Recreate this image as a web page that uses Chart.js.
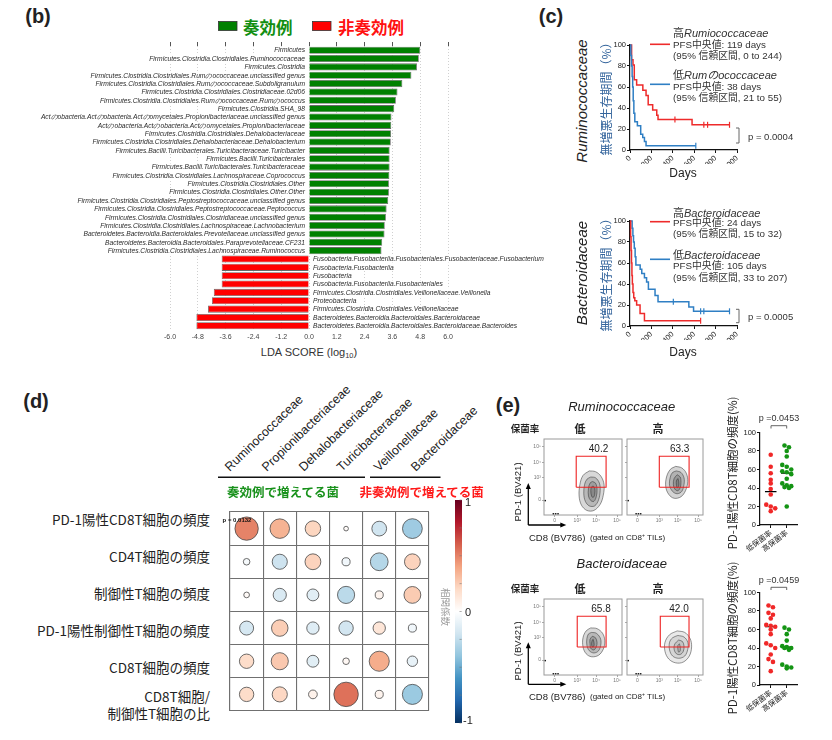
<!DOCTYPE html>
<html>
<head>
<meta charset="utf-8">
<script src="https://cdn.jsdelivr.net/npm/chart.js@4"></script>
<style>
  body { margin: 0; background: #fff; width: 832px; height: 740px; position: relative; overflow: hidden;
         font-family: "Liberation Sans", Arial, "Noto Sans CJK JP", sans-serif; color: #222; }
  .t { position: absolute; white-space: nowrap; line-height: 1; }
  canvas { position: absolute; }
  svg { position: absolute; left: 0; top: 0; pointer-events: none; }
</style>
</head>
<body>
<script>
// ---------- (b) LEfSe ----------
const respNames = [
  'Firmicutes',
  'Firmicutes.Clostridia.Clostridiales.Ruminococcaceae',
  'Firmicutes.Clostridia',
  'Firmicutes.Clostridia.Clostridiales.Rumのococcaceae.unclassified genus',
  'Firmicutes.Clostridia.Clostridiales.Rumのococcaceae.Subdoligranulum',
  'Firmicutes.Clostridia.Clostridiales.Clostridiaceae.02d06',
  'Firmicutes.Clostridia.Clostridiales.Rumのococcaceae.Rumのococcus',
  'Firmicutes.Clostridia.SHA_98',
  'Actのobacteria.Actのobacteria.Actのomycetales.Propionibacteriaceae.unclassified genus',
  'Actのobacteria.Actのobacteria.Actのomycetales.Propionibacteriaceae',
  'Firmicutes.Clostridia.Clostridiales.Dehalobacteriaceae',
  'Firmicutes.Clostridia.Clostridiales.Dehalobacteriaceae.Dehalobacterium',
  'Firmicutes.Bacilli.Turicibacterales.Turicibacteraceae.Turicibacter',
  'Firmicutes.Bacilli.Turicibacterales',
  'Firmicutes.Bacilli.Turicibacterales.Turicibacteraceae',
  'Firmicutes.Clostridia.Clostridiales.Lachnospiraceae.Coprococcus',
  'Firmicutes.Clostridia.Clostridiales.Other',
  'Firmicutes.Clostridia.Clostridiales.Other.Other',
  'Firmicutes.Clostridia.Clostridiales.Peptostreptococcaceae.unclassified genus',
  'Firmicutes.Clostridia.Clostridiales.Peptostreptococcaceae.Peptococcus',
  'Firmicutes.Clostridia.Clostridiales.Clostridiaceae.unclassified genus',
  'Firmicutes.Clostridia.Clostridiales.Lachnospiraceae.Lachnobacterium',
  'Bacteroidetes.Bacteroidia.Bacteroidales.Prevotellaceae.unclassified genus',
  'Bacteroidetes.Bacteroidia.Bacteroidales.Paraprevotellaceae.CF231',
  'Firmicutes.Clostridia.Clostridiales.Lachnospiraceae.Ruminococcus'
];
const respScores = [4.80, 4.74, 4.66, 4.42, 4.03, 3.82, 3.75, 3.68, 3.56, 3.55, 3.54, 3.53,
                    3.48, 3.48, 3.48, 3.47, 3.45, 3.45, 3.42, 3.35, 3.32, 3.27, 3.26, 3.16, 3.13];
const nonNames = [
  'Fusobacteria.Fusobacteriia.Fusobacteriales.Fusobacteriaceae.Fusobacterium',
  'Fusobacteria.Fusobacteriia',
  'Fusobacteria',
  'Fusobacteria.Fusobacteriia.Fusobacteriales',
  'Firmicutes.Clostridia.Clostridiales.Veillonellaceae.Veillonella',
  'Proteobacteria',
  'Firmicutes.Clostridia.Clostridiales.Veillonellaceae',
  'Bacteroidetes.Bacteroidia.Bacteroidales.Bacteroidaceae',
  'Bacteroidetes.Bacteroidia.Bacteroidales.Bacteroidaceae.Bacteroides'
];
const nonScores = [-3.77, -3.77, -3.77, -3.77, -4.11, -4.19, -4.36, -4.86, -4.86];

// ---------- (c) Kaplan-Meier ----------
const ruHiDays = [0, 15, 28, 40, 62, 120, 150, 170, 212, 250, 262, 580, 930];
const ruHiPfs  = [100, 86, 81, 67, 62, 57, 52, 43, 38, 33, 29, 24, 24];
const ruHiCens = [420, 690, 725, 930];
const ruLoDays = [0, 8, 14, 20, 25, 30, 36, 45, 69, 100, 119, 135, 150, 615];
const ruLoPfs  = [100, 90, 80, 70, 60, 47, 35, 27, 23, 15, 12, 8, 4, 4];
const ruLoCens = [615];
const bcHiDays = [0, 6, 10, 14, 18, 22, 28, 35, 45, 62, 94, 135, 660];
const bcHiPfs  = [100, 85, 72, 60, 48, 40, 32, 27, 24, 20, 12, 5, 5];
const bcHiCens = [660];
const bcLoDays = [0, 20, 27, 33, 40, 48, 55, 95, 110, 135, 155, 172, 234, 262, 550, 594, 930];
const bcLoPfs  = [100, 93, 86, 80, 74, 66, 58, 54, 50, 46, 42, 35, 29, 23, 18, 14, 14];
const bcLoCens = [405, 660, 690, 930];

// ---------- (d) correlation ----------
const taxa = ['Ruminococcaceae', 'Propionibacteriaceae', 'Dehalobacteriaceae',
              'Turicibacteraceae', 'Veillonellaceae', 'Bacteroidaceae'];
const cellTypes = ['PD-1陽性CD8T細胞の頻度', 'CD4T細胞の頻度', '制御性T細胞の頻度',
                   'PD-1陽性制御性T細胞の頻度', 'CD8T細胞の頻度', 'CD8T細胞/<br>制御性T細胞の比'];
const corrPd1Cd8  = [0.50, 0.35, 0.22, 0.02, -0.20, -0.36];
const corrCd4     = [-0.04, -0.21, 0.23, -0.06, -0.29, 0.23];
const corrTreg    = [0.03, -0.16, -0.13, -0.27, 0.06, 0.26];
const corrPd1Treg = [-0.18, 0.25, -0.14, -0.19, 0.14, -0.06];
const corrCd8     = [0.19, 0.27, -0.13, 0.04, 0.37, -0.10];
const corrRatio   = [0.19, 0.21, 0.07, 0.55, 0.06, -0.37];
const corrRows = [corrPd1Cd8, corrCd4, corrTreg, corrPd1Treg, corrCd8, corrRatio];

// ---------- (e) flow + dot plots ----------
const flowXTicks = [13.6, 42.6, 66.8, 93.6];
const flowYTicks = [19.7, 49.7, 68.7, 90.6];
const flowTickLabels = ['0', '10³', '10⁴', '10⁵'];
const ruLowRings = [
  [[58,58],[66,57],[73,51],[77,40],[76,26],[72,14],[64,6],[55,6],[48,13],[45,25],[46,40],[50,52],[58,58]],
  [[60,50],[66,49],[71,42],[72,32],[70,20],[65,12],[58,12],[53,18],[51,28],[52,40],[55,47],[60,50]],
  [[62,44],[66,42],[68,34],[67,24],[64,18],[60,19],[57,25],[57,35],[59,42],[62,44]],
  [[63,38],[65,36],[65,27],[63,23],[61,25],[60,32],[61,37],[63,38]]
];
const ruHighRings = [
  [[64,64],[72,62],[78,55],[80,44],[77,32],[71,24],[62,22],[55,27],[51,37],[52,50],[57,60],[64,64]],
  [[65,58],[71,56],[75,49],[75,40],[72,31],[66,28],[60,31],[56,39],[57,50],[60,56],[65,58]],
  [[66,53],[70,50],[71,43],[70,36],[67,32],[63,34],[61,40],[62,48],[66,53]],
  [[67,48],[68,44],[68,38],[66,36],[65,40],[65,45],[67,48]]
];
const bcLowRings = [
  [[60,62],[68,61],[75,55],[78,45],[76,34],[70,26],[61,24],[54,28],[50,37],[50,49],[54,58],[60,62]],
  [[61,56],[67,55],[72,49],[73,41],[70,32],[64,29],[58,32],[55,39],[55,48],[57,54],[61,56]],
  [[62,51],[66,49],[68,43],[67,37],[64,33],[60,35],[59,41],[59,47],[62,51]],
  [[63,47],[64,43],[64,38],[62,37],[61,41],[62,46],[63,47]]
];
const bcHighRings = [
  [[66,58],[76,56],[83,48],[85,37],[82,25],[74,17],[64,16],[55,21],[50,31],[50,43],[56,53],[66,58]],
  [[67,52],[75,50],[80,43],[80,34],[76,25],[68,22],[60,25],[56,33],[56,43],[60,49],[67,52]],
  [[68,46],[73,44],[75,38],[74,31],[70,27],[65,28],[62,34],[63,41],[68,46]],
  [[69,41],[70,37],[70,32],[68,30],[67,34],[67,39],[69,41]]
];
const ruLowGate = [41.3, 79.6, 36.5, 77.3];
const ruHighGate = [42.5, 81.7, 36.5, 77.3];
const bcLowGate = [42.6, 79.6, 36.9, 77.3];
const bcHighGate = [43.8, 81.6, 36.9, 77.3];
const flowPile = [[12, 1.5], [15, 1.5], [18, 1.5], [1.5, 19]];
const gatePct = ['40.2', '63.3', '65.8', '42.0'];

const dotGroups = ['低保菌率', '高保菌率'];
const ruLowPd1 = [76, 63, 56, 49, 45, 39, 33, 22, 20, 18, 15];
const ruHighPd1 = [86, 84, 80, 74, 65, 63, 60, 58, 57, 55, 50, 45, 43, 42, 41, 40, 20];
const ruMedians = [36, 56];
const bcLowPd1 = [86, 84, 78, 76, 72, 65, 64, 63, 60, 55, 45, 43, 40, 33, 28, 25, 15];
const bcHighPd1 = [62, 60, 55, 48, 42, 41, 40, 40, 38, 22, 20, 19, 18];
const bcMedians = [63, 41];

// ---------- helpers ----------
Chart.defaults.font.family = '"Liberation Sans", Arial, sans-serif';
Chart.defaults.animation = false;
Chart.defaults.plugins.legend.display = false;
Chart.defaults.plugins.tooltip.enabled = false;
Chart.defaults.color = '#222';
const JP = '"Noto Sans CJK JP", sans-serif';

function T(html, x, y, style, anchor = 'c', rot = 0) {
  const d = document.createElement('div');
  d.className = 't';
  d.setAttribute('style', style);
  d.innerHTML = html;
  d.style.left = x + 'px';
  d.style.top = y + 'px';
  const tx = anchor === 'l' ? '0' : anchor === 'r' ? '-100%' : '-50%';
  d.style.transform = `translate(${tx},-50%)` + (rot ? ` rotate(${rot}deg)` : '');
  if (anchor === 'l' && rot) d.style.transformOrigin = '0 50%';
  document.body.appendChild(d);
}

// canvas so that the chart area lands on a = {l, r, t, b}
function canvasFor(a, ml, mt, mr, mb) {
  const c = document.createElement('canvas');
  const w = Math.round(a.r - a.l + ml + mr), h = Math.round(a.b - a.t + mt + mb);
  c.width = w; c.height = h;
  c.style.left = (a.l - ml) + 'px';
  c.style.top = (a.t - mt) + 'px';
  c.style.width = w + 'px'; c.style.height = h + 'px';
  document.body.appendChild(c);
  return c;
}

const svgNS = 'http://www.w3.org/2000/svg';
const svg = document.createElementNS(svgNS, 'svg');
svg.setAttribute('width', 832); svg.setAttribute('height', 740);
function L(x1, y1, x2, y2, color = '#000', w = 1) {
  const l = document.createElementNS(svgNS, 'line');
  l.setAttribute('x1', x1); l.setAttribute('y1', y1); l.setAttribute('x2', x2); l.setAttribute('y2', y2);
  l.setAttribute('stroke', color); l.setAttribute('stroke-width', w);
  svg.appendChild(l);
}
function P(points, color) {
  const p = document.createElementNS(svgNS, 'polygon');
  p.setAttribute('points', points); p.setAttribute('fill', color);
  svg.appendChild(p);
}
function R(x, y, w, h, fill, stroke) {
  const r = document.createElementNS(svgNS, 'rect');
  r.setAttribute('x', x); r.setAttribute('y', y); r.setAttribute('width', w); r.setAttribute('height', h);
  r.setAttribute('fill', fill); r.setAttribute('stroke', stroke); r.setAttribute('stroke-width', 0.8);
  svg.appendChild(r);
}

// ---------- (b) ----------
T('(b)', 38, 16, 'font: bold 20px "Liberation Sans"');
R(218.5, 21.5, 18.5, 9, '#008000', '#333');
T('奏効例', 243, 26.5, `font: bold 16.5px ${JP}; color: #128f12`, 'l');
R(312.5, 21.5, 18.5, 9, '#ff0000', '#333');
T('非奏効例', 338, 26.5, `font: bold 16.5px ${JP}; color: #ff1010`, 'l');
T('LDA SCORE (log<sub style="font-size:7.5px;vertical-align:-2px">10</sub>)', 309, 353,
  'font: 11px "Liberation Sans"; color: #333');

const ldaNames = respNames.concat(nonNames);
const ldaScores = respScores.concat(nonScores);
const ldaLabels = {
  id: 'ldaLabels',
  afterDatasetsDraw(ch) {
    const c = ch.ctx, xs = ch.scales.x, ys = ch.scales.y, x0 = xs.getPixelForValue(0);
    c.save();
    c.font = 'italic 6.7px "Liberation Sans"';
    c.textBaseline = 'middle';
    ch.data.labels.forEach((lab, i) => {
      const y = ys.getPixelForValue(i);
      const w = c.measureText(lab).width;
      const x = ch.data.datasets[0].data[i] > 0 ? x0 - 4 - w : x0 + 4;
      c.fillStyle = '#fff';
      c.fillRect(x - 1, y - 3.6, w + 2, 7.2);
      c.fillStyle = '#2a2a2a';
      c.fillText(lab, x, y + 0.4);
    });
    c.restore();
  }
};
new Chart(canvasFor({ l: 170, r: 448, t: 46, b: 330 }, 140, 6, 112, 16), {
  type: 'bar',
  data: {
    labels: ldaNames,
    datasets: [{
      data: ldaScores,
      backgroundColor: ldaScores.map(v => v > 0 ? '#008000' : '#ff0000'),
      borderColor: '#6a6a6a', borderWidth: 0.8,
      barPercentage: 0.85, categoryPercentage: 1
    }]
  },
  options: {
    indexAxis: 'y', responsive: false,
    layout: { padding: { left: 0, top: 0, right: 112, bottom: 0 } },
    scales: {
      x: {
        min: -6, max: 6,
        ticks: { stepSize: 1.2, callback: v => v.toFixed(1), font: { size: 7 }, color: '#444', padding: 3 },
        grid: { color: '#c4c4c4', lineWidth: 0.8, drawTicks: false },
        border: { display: false, dash: [1, 2] },
        afterFit: s => { s.height = 16; }
      },
      x2: {
        type: 'linear', position: 'top', min: -6, max: 6,
        ticks: { stepSize: 1.2, display: false },
        grid: { drawOnChartArea: false, tickLength: 4, color: '#555' },
        border: { display: false },
        afterFit: s => { s.height = 6; }
      },
      y: {
        ticks: { display: false }, grid: { display: false }, border: { display: false },
        afterFit: s => { s.width = 140; }
      }
    }
  },
  plugins: [ldaLabels]
});

// ---------- (c) ----------
T('(c)', 551, 16, 'font: bold 20px "Liberation Sans"');
const KM_RED = '#ee2b2b', KM_BLUE = '#2f7fc4';

function survAt(days, pfs, t) {
  let s = pfs[0];
  days.forEach((d, i) => { if (d <= t) s = pfs[i]; });
  return s;
}
function kmChart(area, curves) {
  const datasets = [];
  curves.forEach(cv => {
    datasets.push({
      data: cv.days.map((d, i) => ({ x: d, y: cv.pfs[i] })),
      borderColor: cv.color, borderWidth: 1.5, stepped: true, pointRadius: 0, clip: false
    });
    datasets.push({
      data: cv.cens.map(d => ({ x: d, y: survAt(cv.days, cv.pfs, d) })),
      showLine: false, pointStyle: 'line', rotation: 90, pointRadius: 3,
      borderColor: cv.color, borderWidth: 1.2, clip: false
    });
  });
  new Chart(canvasFor(area, 22, 6, 12, 14), {
    type: 'line',
    data: { datasets },
    options: {
      responsive: false,
      layout: { padding: { left: 0, top: 6, right: 12, bottom: 0 } },
      scales: {
        x: {
          type: 'linear', min: 0, max: 1000,
          ticks: { stepSize: 200, font: { size: 7.5 }, color: '#222', padding: 1 },
          grid: { drawOnChartArea: false, tickLength: 3, color: '#111' },
          border: { color: '#111', width: 1.2 },
          afterFit: s => { s.height = 14; }
        },
        y: {
          min: 0, max: 100,
          ticks: { stepSize: 20, font: { size: 7.5 }, color: '#222', padding: 1 },
          grid: { drawOnChartArea: false, tickLength: 3, color: '#111' },
          border: { color: '#111', width: 1.2 },
          afterFit: s => { s.width = 22; }
        }
      }
    }
  });
}
kmChart({ l: 630, r: 736.7, t: 44.5, b: 149.5 }, [
  { days: ruLoDays, pfs: ruLoPfs, cens: ruLoCens, color: KM_BLUE },
  { days: ruHiDays, pfs: ruHiPfs, cens: ruHiCens, color: KM_RED }
]);
kmChart({ l: 630, r: 736.7, t: 221, b: 325.7 }, [
  { days: bcHiDays, pfs: bcHiPfs, cens: bcHiCens, color: KM_RED },
  { days: bcLoDays, pfs: bcLoPfs, cens: bcLoCens, color: KM_BLUE }
]);

const legFont = `font: 9.8px "Liberation Sans", ${JP}; color: #333`;
const legHead = `font: 11px "Liberation Sans", ${JP}; color: #333`;
// top KM
T('<i>Ruminococcaceae</i>', 581, 101, 'font: italic 15px "Liberation Sans"', 'c', -90);
T('無増悪生存期間（%）', 605, 96, `font: 12px ${JP}; color: #33649c`, 'c', -90);
L(650, 44.3, 670, 44.3, KM_RED, 1.6);
T('高<i>Rumiococcaceae</i>', 673, 32, legHead, 'l');
T('PFS中央値: 119 days', 673, 43.5, legFont, 'l');
T('(95% 信頼区間, 0 to 244)', 673, 54.5, legFont, 'l');
L(650, 84.3, 670, 84.3, KM_BLUE, 1.6);
T('低<i>Rumのococcaceae</i>', 673, 74, legHead, 'l');
T('PFS中央値: 38 days', 673, 86, legFont, 'l');
T('(95% 信頼区間, 21 to 55)', 673, 97, legFont, 'l');
T('Days', 683, 173, 'font: 12px "Liberation Sans"');
L(739, 128, 739, 143, '#666', 1); L(736, 128, 739, 128, '#666', 1); L(736, 143, 739, 143, '#666', 1);
T('p = 0.0004', 748, 135.5, 'font: 9.5px "Liberation Sans"; color:#333', 'l');
// bottom KM
T('<i>Bacteroidaceae</i>', 581, 272.5, 'font: italic 15px "Liberation Sans"', 'c', -90);
T('無増悪生存期間（%）', 605, 272, `font: 12px ${JP}; color: #33649c`, 'c', -90);
L(650, 221.7, 670, 221.7, KM_RED, 1.6);
T('高<i>Bacteroidaceae</i>', 673, 211.7, legHead, 'l');
T('PFS中央値: 24 days', 673, 222.3, legFont, 'l');
T('(95% 信頼区間, 15 to 32)', 673, 232.7, legFont, 'l');
L(650, 259.3, 670, 259.3, KM_BLUE, 1.6);
T('低<i>Bacteroidaceae</i>', 673, 254, legHead, 'l');
T('PFS中央値: 105 days', 673, 265.3, legFont, 'l');
T('(95% 信頼区間, 33 to 207)', 673, 276.7, legFont, 'l');
T('Days', 683, 351.5, 'font: 12px "Liberation Sans"');
L(739, 309.3, 739, 322.7, '#666', 1); L(736, 309.3, 739, 309.3, '#666', 1); L(736, 322.7, 739, 322.7, '#666', 1);
T('p = 0.0005', 748, 316, 'font: 9.5px "Liberation Sans"; color:#333', 'l');

// ---------- (d) ----------
T('(d)', 36, 401, 'font: bold 20px "Liberation Sans"');
const rdbu = ['#053061', '#2166AC', '#4393C3', '#92C5DE', '#D1E5F0', '#FFFFFF',
              '#FDDBC7', '#F4A582', '#D6604D', '#B2182B', '#67001F'];
function hex(c) { return [1, 3, 5].map(i => parseInt(c.substr(i, 2), 16)); }
function corrColor(r) {
  const p = (r + 1) / 2 * 10, i = Math.min(9, Math.floor(p)), f = p - i;
  const a = hex(rdbu[i]), b = hex(rdbu[i + 1]);
  return `rgb(${a.map((v, k) => Math.round(v + (b[k] - v) * f)).join(',')})`;
}
const corrArea = { l: 218, r: 441, t: 500, b: 723 };
const cell = (corrArea.r - corrArea.l) / taxa.length;
const corrPoints = [];
corrRows.forEach((row, ri) => row.forEach((v, ci) => corrPoints.push({ x: ci, y: ri, v })));
const cellEdges = [-0.5, 0.5, 1.5, 2.5, 3.5, 4.5, 5.5];
const gridAxis = (reverse, fitKey) => ({
  min: -0.5, max: 5.5, reverse,
  afterBuildTicks: s => { s.ticks = cellEdges.map(v => ({ value: v })); },
  ticks: { display: false },
  grid: { color: '#707070', lineWidth: 1.1, drawTicks: false },
  border: { color: '#707070', width: 1.1 },
  afterFit: s => { s[fitKey] = 1; }
});
new Chart(canvasFor(corrArea, 1, 1, 1, 1), {
  type: 'scatter',
  data: {
    datasets: [{
      data: corrPoints,
      pointRadius: c => c.raw ? 16.5 * Math.sqrt(Math.abs(c.raw.v)) : 0,
      pointBackgroundColor: c => c.raw ? corrColor(c.raw.v) : '#fff',
      pointBorderColor: '#474747', pointBorderWidth: 0.8
    }]
  },
  options: {
    responsive: false,
    layout: { padding: { left: 0, top: 1, right: 1, bottom: 0 } },
    scales: { x: gridAxis(false, 'height'), y: gridAxis(true, 'width') }
  }
});
taxa.forEach((name, i) => {
  const cx = corrArea.l + cell * (i + 0.5);
  T(name, cx - 9.5, 469, 'font: 12.5px "Liberation Sans"; color: #222', 'l', -44);
});
L(218, 477.3, 365, 477.3, '#111', 1.5);
L(370, 477.3, 440.5, 477.3, '#111', 1.5);
T('奏効例で増えてる菌', 283, 490.7, `font: bold 12.5px ${JP}; color: #18911b`);
T('非奏効例で増えてる菌', 421.7, 490.7, `font: bold 12.5px ${JP}; color: #ff1a1a`);
cellTypes.forEach((name, i) => {
  const cy = corrArea.t + cell * (i + 0.5);
  T(name, 210, cy, `font: 13.5px ${JP}; color: #222; text-align: right; line-height: 1.2`, 'r');
});
T('p = 0.0132', 237, 519.5, 'font: bold 6px "Liberation Sans"; color: #111');
// colour bar
const cb = document.createElement('div');
cb.style.cssText = 'position:absolute;left:455px;top:500px;width:6.7px;height:223px;background:linear-gradient(to bottom,' +
  rdbu.slice().reverse().map((c, i) => `${c} ${i * 10}%`).join(',') + ')';
document.body.appendChild(cb);
for (let k = 0; k <= 8; k++) L(459.5, 500 + k * 27.875, 461.7, 500 + k * 27.875, '#777', 0.6);
T('1', 465, 502, 'font: 11px "Liberation Sans"', 'l');
T('0', 465, 611.5, 'font: 11px "Liberation Sans"', 'l');
T('-1', 463, 720, 'font: 11px "Liberation Sans"', 'l');
T('相関係数', 446, 607, `font: 9.5px ${JP}; color: #9a9a9a`, 'c', 90);

// ---------- (e) ----------
T('(e)', 508, 405, 'font: bold 20px "Liberation Sans"');
const frame = {
  id: 'frame',
  afterDraw(ch) {
    const a = ch.chartArea, c = ch.ctx;
    c.save(); c.strokeStyle = '#9a9a9a'; c.lineWidth = 1;
    c.strokeRect(a.left, a.top, a.right - a.left, a.bottom - a.top);
    c.restore();
  }
};
function flowChart(area, rings, gate, shade, showY) {
  const ml = showY ? 14 : 2;
  const datasets = [{
    data: [[gate[0], gate[2]], [gate[1], gate[2]], [gate[1], gate[3]], [gate[0], gate[3]], [gate[0], gate[2]]]
      .map(p => ({ x: p[0], y: p[1] })),
    showLine: true, borderColor: '#ee2222', borderWidth: 1.1, pointRadius: 0, order: 0
  }, {
    data: flowPile.map(p => ({ x: p[0], y: p[1] })),
    pointRadius: 0.9, pointBackgroundColor: '#111', pointBorderWidth: 0, order: 1
  }];
  rings.forEach((ring, i) => datasets.push({
    data: ring.map(p => ({ x: p[0], y: p[1] })),
    showLine: true, fill: 'shape', tension: 0.35,
    backgroundColor: `rgba(40,40,40,${shade})`, borderColor: 'rgba(40,40,40,0.7)',
    borderWidth: 0.7, pointRadius: 0, order: 10 - i
  }));
  const axis = (vals, show, key, size) => ({
    min: 0, max: 100,
    afterBuildTicks: s => { s.ticks = vals.map(v => ({ value: v })); },
    ticks: { display: show, callback: (v, i) => flowTickLabels[i], font: { size: 5 }, color: '#777', padding: 1 },
    grid: { drawOnChartArea: false, tickLength: 2, color: '#aaa' },
    border: { display: false },
    afterFit: s => { s[key] = size; }
  });
  new Chart(canvasFor(area, ml, 2, 6, 10), {
    type: 'scatter',
    data: { datasets },
    options: {
      responsive: false,
      layout: { padding: { left: 0, top: 2, right: 6, bottom: 0 } },
      scales: { x: axis(flowXTicks, true, 'height', 10), y: axis(flowYTicks, showY, 'width', ml) }
    },
    plugins: [frame]
  });
}
flowChart({ l: 544.3, r: 622.7, t: 436.7, b: 514.3 }, ruLowRings, ruLowGate, 0.18, true);
flowChart({ l: 625, r: 703.3, t: 436.7, b: 514.3 }, ruHighRings, ruHighGate, 0.2, false);
flowChart({ l: 544.3, r: 622.7, t: 596.7, b: 674.3 }, bcLowRings, bcLowGate, 0.18, true);
flowChart({ l: 625, r: 703.3, t: 596.7, b: 674.3 }, bcHighRings, bcHighGate, 0.1, false);

function flowText(title, ty, rowTop, corner) {
  T(`<i>${title}</i>`, 621.7, ty, 'font: italic 13px "Liberation Sans"');
  T('保菌率', 525, rowTop - 8.7, `font: 600 9.5px ${JP}`);
  T('低', 580, rowTop - 8.7, `font: bold 11px ${JP}`);
  T('高', 658, rowTop - 8.7, `font: bold 11px ${JP}`);
  L(corner[0], corner[1], corner[0], corner[1] - 37, '#000', 1.3);
  P(`${corner[0] - 2.5},${corner[1] - 36} ${corner[0] + 2.5},${corner[1] - 36} ${corner[0]},${corner[1] - 42}`, '#000');
  L(corner[0], corner[1], corner[0] + 33, corner[1], '#000', 1.3);
  P(`${corner[0] + 32},${corner[1] - 2.5} ${corner[0] + 32},${corner[1] + 2.5} ${corner[0] + 38},${corner[1]}`, '#000');
  T('PD-1 (BV421)', 516.7, corner[1] - 33, 'font: 9.5px "Liberation Sans"', 'c', -90);
  T('CD8 (BV786)', 529, corner[1] + 11.7, 'font: 9.5px "Liberation Sans"', 'l');
  T('(gated on CD8<sup style="font-size:5px">+</sup> TILs)', 590, corner[1] + 12, 'font: 8px "Liberation Sans"', 'l');
}
flowText('Ruminococcaceae', 405.7, 436.7, [528.3, 525]);
flowText('Bacteroidaceae', 563.3, 596.7, [528.3, 684.3]);
T(gatePct[0], 598.5, 448.3, 'font: 10px "Liberation Sans"');
T(gatePct[1], 679.7, 448.3, 'font: 10px "Liberation Sans"');
T(gatePct[2], 601, 608.3, 'font: 10px "Liberation Sans"');
T(gatePct[3], 679, 608.3, 'font: 10px "Liberation Sans"');

function swarm(vals, center) {
  const idx = vals.map((v, i) => i).sort((a, b) => vals[b] - vals[a]);
  const pts = [];
  let cl = [];
  const flush = () => {
    const n = cl.length;
    cl.forEach((i, k) => pts.push({ x: center + (k - (n - 1) / 2) * 0.28, y: vals[i] }));
    cl = [];
  };
  idx.forEach(i => {
    if (cl.length && (cl.length === 3 || Math.abs(vals[cl[cl.length - 1]] - vals[i]) > 3.5)) flush();
    cl.push(i);
  });
  flush();
  return pts;
}
function dotChart(area, low, high, medians) {
  new Chart(canvasFor(area, 40, 4, 6, 40), {
    type: 'scatter',
    data: {
      datasets: [
        { data: swarm(low, 1), pointRadius: 2.3, pointBackgroundColor: '#f02828', pointBorderWidth: 0 },
        { data: swarm(high, 2), pointRadius: 2.3, pointBackgroundColor: '#149414', pointBorderWidth: 0 },
        { data: medians.flatMap((m, i) => [{ x: i + 1 - 0.36, y: m }, { x: i + 1 + 0.36, y: m }, { x: NaN, y: NaN }]),
          showLine: true, spanGaps: false, borderColor: '#000', borderWidth: 1.2, pointRadius: 0 }
      ]
    },
    options: {
      responsive: false,
      layout: { padding: { left: 0, top: 4, right: 6, bottom: 0 } },
      scales: {
        x: {
          min: 0.33, max: 2.64,
          afterBuildTicks: s => { s.ticks = [1, 2].map(v => ({ value: v })); },
          ticks: { callback: v => dotGroups[v - 1], font: { size: 7.5, family: JP }, color: '#222',
                   minRotation: 37, maxRotation: 37, padding: 0 },
          grid: { drawOnChartArea: false, tickLength: 3, color: '#111' },
          border: { color: '#111', width: 1.2 },
          afterFit: s => { s.height = 40; }
        },
        y: {
          min: 0, max: 100,
          ticks: { stepSize: 20, font: { size: 7.5 }, color: '#222', padding: 1 },
          grid: { drawOnChartArea: false, tickLength: 3, color: '#111' },
          border: { color: '#111', width: 1.2 },
          afterFit: s => { s.width = 40; }
        }
      }
    }
  });
}
dotChart({ l: 760, r: 797, t: 430.7, b: 525 }, ruLowPd1, ruHighPd1, ruMedians);
dotChart({ l: 760, r: 797, t: 591, b: 685 }, bcLowPd1, bcHighPd1, bcMedians);
T('PD-1陽性CD8T細胞の頻度(%)', 731.7, 473, `font: 11.5px ${JP}`, 'c', -90);
T('PD-1陽性CD8T細胞の頻度(%)', 731.7, 637.5, `font: 11.5px ${JP}`, 'c', -90);
T('p =0.0453', 779, 418.3, 'font: 9px "Liberation Sans"; color:#333');
L(771, 425.7, 786.7, 425.7, '#555', 0.9); L(771, 425.7, 771, 428.5, '#555', 0.9); L(786.7, 425.7, 786.7, 428.5, '#555', 0.9);
T('p =0.0459', 779, 580, 'font: 9px "Liberation Sans"; color:#333');
L(771, 587.3, 786.7, 587.3, '#555', 0.9); L(771, 587.3, 771, 590, '#555', 0.9); L(786.7, 587.3, 786.7, 590, '#555', 0.9);

document.body.appendChild(svg);
</script>
</body>
</html>
